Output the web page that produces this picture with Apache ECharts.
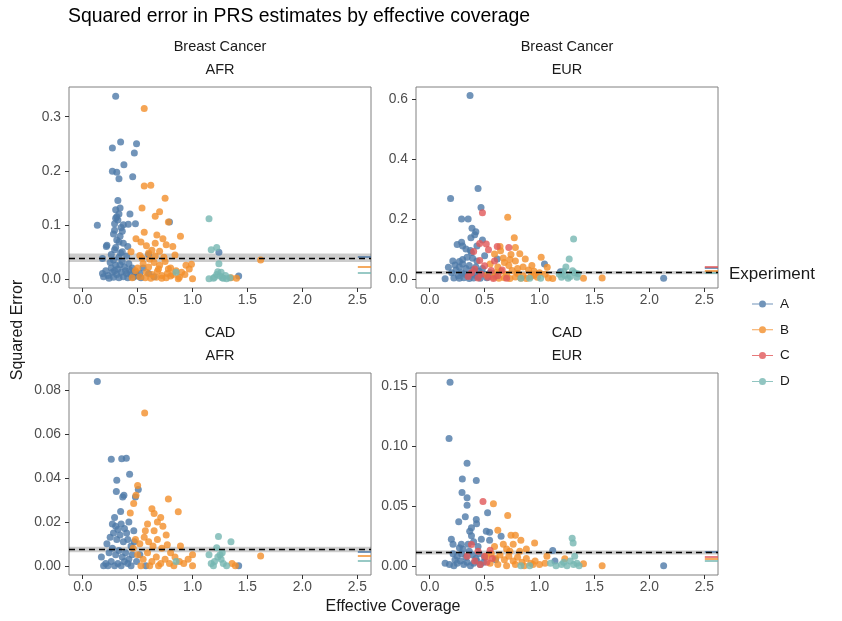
<!DOCTYPE html>
<html>
<head>
<meta charset="utf-8">
<script src="https://cdn.jsdelivr.net/npm/echarts@6/dist/echarts.min.js"></script>
<style>
  html, body { margin: 0; padding: 0; background: #fff; }
  #chart { width: 842px; height: 621px; }
</style>
</head>
<body>
<div id="chart"></div>
<script>
// categories
const experiments = ['A', 'B', 'C', 'D']
const panelNames = [['Breast Cancer', 'AFR'], ['Breast Cancer', 'EUR'], ['CAD', 'AFR'], ['CAD', 'EUR']]
const xTicks = [0, 0.5, 1, 1.5, 2, 2.5]
const yTicks = [[0, 0.1, 0.2, 0.3], [0, 0.2, 0.4, 0.6], [0, 0.02, 0.04, 0.06, 0.08], [0, 0.05, 0.1, 0.15]]

// [effective coverage, squared error]
const bcAfrA = [[0.30,0.338],[0.345,0.253],[0.49,0.25],[0.27,0.242],[0.47,0.233],[0.375,0.211],[0.27,0.199],[0.31,0.197],[0.33,0.185],[0.455,0.189],[0.32,0.145],[0.30,0.128],[0.34,0.131],[0.30,0.112],[0.43,0.12],[0.133,0.099],[0.32,0.109],[0.37,0.1],[0.415,0.101],[0.48,0.102],[0.79,0.105],[0.29,0.09],[0.36,0.088],[0.34,0.079],[0.22,0.062],[0.215,0.06],[0.31,0.072],[0.37,0.066],[0.41,0.06],[0.29,0.054],[0.18,0.0375],[0.40,0.042],[0.345,0.048],[0.6,0.045],[1.24,0.049],[1.42,0.005],[0.19,0.004],
  [0.25,0.03],[0.28,0.035],[0.33,0.04],[0.36,0.032],[0.30,0.025],[0.26,0.02],[0.32,0.018],[0.38,0.022],[0.42,0.028],[0.45,0.02],[0.27,0.012],[0.31,0.008],[0.35,0.012],[0.40,0.01],[0.44,0.008],[0.48,0.012],[0.23,0.006],[0.28,0.003],[0.33,0.002],[0.37,0.004],[0.41,0.002],[0.46,0.003],[0.50,0.005],[0.24,0.001],[0.29,0.015],[0.34,0.026],[0.39,0.015],[0.43,0.016],[0.52,0.01],[0.26,0.045],[0.30,0.058],[0.33,0.068],[0.36,0.05],[0.28,0.083],[0.35,0.095],[0.31,0.115],[0.33,0.12],[0.29,0.102],[0.53,0.002],[0.60,0.01],[0.65,0.004],[0.55,0.02],[0.21,0.015],[0.18,0.01]]
const bcAfrB = [[0.56,0.315],[0.56,0.172],[0.62,0.173],[0.75,0.149],[0.54,0.131],[0.70,0.124],[0.66,0.116],[0.78,0.105],[0.56,0.086],[0.485,0.074],[0.675,0.081],[0.89,0.079],[0.73,0.074],[0.76,0.063],[0.66,0.066],[0.82,0.06],[0.53,0.068],[0.58,0.061],[0.63,0.053],[0.70,0.051],[0.84,0.044],[0.44,0.05],[0.52,0.043],[0.61,0.036],[0.94,0.025],[0.99,0.027],[0.97,0.018],[1.0,0.0],[0.93,0.008],[0.87,0.0],[0.80,0.005],[1.62,0.035],[1.40,0.001],[1.35,0.002],
  [0.50,0.02],[0.55,0.028],[0.60,0.022],[0.65,0.03],[0.70,0.025],[0.75,0.032],[0.80,0.02],[0.85,0.015],[0.58,0.012],[0.63,0.008],[0.68,0.014],[0.72,0.006],[0.77,0.01],[0.82,0.008],[0.52,0.004],[0.57,0.002],[0.62,0.001],[0.67,0.003],[0.72,0.001],[0.76,0.002],[0.88,0.003],[0.90,0.012],[0.54,0.038],[0.66,0.042],[0.74,0.04],[0.60,0.048],[0.45,0.002],[0.48,0.015],[0.78,0.018],[0.69,0.018]]
const bcAfrD = [[1.15,0.111],[1.22,0.058],[1.17,0.054],[1.24,0.028],[0.85,0.012],[1.15,0.0],[1.19,0.001],[1.22,0.008],[1.25,0.005],[1.28,0.001],[1.31,0.0],[1.34,0.002],[1.23,0.013],[1.26,0.012],[1.20,0.003],[1.30,0.006],[1.27,0.002]]

const bcEurA = [[0.367,0.612],[0.44,0.302],[0.19,0.268],[0.467,0.238],[0.29,0.2],[0.35,0.2],[0.385,0.169],[0.42,0.157],[0.41,0.147],[0.375,0.137],[0.29,0.122],[0.30,0.11],[0.48,0.13],[0.33,0.1],[0.38,0.088],[0.39,0.069],[0.21,0.06],[0.23,0.046],[0.17,0.039],[0.50,0.077],[0.615,0.066],[1.045,0.05],[1.19,0.024],[2.13,0.002],[0.14,0.0],
  [0.20,0.02],[0.24,0.03],[0.27,0.04],[0.30,0.05],[0.33,0.035],[0.36,0.045],[0.39,0.03],[0.42,0.04],[0.45,0.025],[0.48,0.035],[0.26,0.01],[0.29,0.02],[0.32,0.015],[0.35,0.01],[0.38,0.018],[0.41,0.012],[0.44,0.008],[0.50,0.015],[0.22,0.003],[0.27,0.002],[0.31,0.004],[0.36,0.001],[0.40,0.003],[0.46,0.002],[0.52,0.004],[0.30,0.065],[0.34,0.072],[0.27,0.058],[0.43,0.06],[0.55,0.02],[0.60,0.01],[0.25,0.115],[0.43,0.11],[0.37,0.095]]
const bcEurB = [[0.71,0.206],[0.77,0.137],[0.64,0.108],[0.645,0.094],[0.78,0.105],[0.82,0.084],[0.74,0.081],[0.87,0.066],[0.59,0.083],[1.015,0.072],[1.07,0.039],[1.40,0.002],[1.57,0.003],
  [0.55,0.05],[0.62,0.04],[0.68,0.055],[0.72,0.045],[0.78,0.06],[0.85,0.04],[0.90,0.03],[0.95,0.025],[1.0,0.02],[1.05,0.015],[0.60,0.02],[0.65,0.025],[0.70,0.015],[0.75,0.028],[0.80,0.018],[0.85,0.01],[0.92,0.008],[0.98,0.005],[1.08,0.003],[1.12,0.001],[0.58,0.005],[0.63,0.002],[0.68,0.004],[0.73,0.001],[0.78,0.006],[0.83,0.002],[0.88,0.001],[0.95,0.012],[0.52,0.012],[0.67,0.07],[0.73,0.065],[0.93,0.045],[0.8,0.035]]
const bcEurC = [[0.48,0.221],[0.455,0.118],[0.515,0.116],[0.615,0.108],[0.72,0.105],[0.535,0.097],[0.40,0.091],[0.455,0.061],[0.59,0.06],[0.50,0.044],[0.56,0.028],[0.41,0.033],[0.47,0.015],[0.38,0.02],[0.53,0.005],[0.62,0.01],[0.66,0.03],[0.70,0.002],[0.44,0.003],[0.58,0.001],[0.35,0.008]]
const bcEurD = [[1.31,0.133],[1.27,0.066],[1.24,0.04],[1.30,0.027],[1.32,0.02],[1.23,0.011],[1.26,0.002],[1.35,0.017],[1.20,0.005],[1.28,0.008],[0.83,0.002],[0.91,0.002],[1.01,0.002],[1.22,0.025],[1.34,0.005],[1.18,0.015]]

const cadAfrA = [[0.133,0.084],[0.26,0.0486],[0.355,0.0488],[0.397,0.049],[0.427,0.0417],[0.31,0.039],[0.506,0.0348],[0.306,0.0339],[0.375,0.0322],[0.364,0.0314],[0.48,0.0314],[0.345,0.0247],[0.27,0.019],[0.35,0.019],[0.32,0.0165],[0.40,0.015],[0.465,0.016],[0.17,0.004],[0.19,0.0],[0.575,0.0],[1.42,0.0],
  [0.22,0.01],[0.25,0.013],[0.28,0.015],[0.31,0.012],[0.34,0.014],[0.37,0.011],[0.41,0.012],[0.44,0.009],[0.47,0.011],[0.24,0.006],[0.27,0.008],[0.30,0.005],[0.33,0.007],[0.36,0.004],[0.39,0.006],[0.42,0.003],[0.45,0.005],[0.49,0.002],[0.21,0.001],[0.26,0.002],[0.29,0.0],[0.32,0.001],[0.35,0.0],[0.38,0.002],[0.41,0.001],[0.44,0.0],[0.30,0.018],[0.38,0.017],[0.29,0.022],[0.42,0.02],[0.52,0.005],[0.23,0.0]]
const cadAfrB = [[0.564,0.0697],[0.5,0.0366],[0.485,0.0322],[0.464,0.0284],[0.433,0.0241],[0.78,0.0305],[0.63,0.026],[0.65,0.0238],[0.87,0.0246],[0.71,0.022],[0.68,0.02],[0.73,0.018],[0.59,0.019],[0.65,0.016],[0.76,0.014],[0.77,0.0096],[0.89,0.009],[1.0,0.005],[0.96,0.003],[1.0,0.0],[1.62,0.0045],[1.36,0.001],[1.39,0.0],
  [0.48,0.012],[0.52,0.01],[0.56,0.013],[0.60,0.011],[0.64,0.009],[0.68,0.012],[0.72,0.008],[0.80,0.006],[0.84,0.004],[0.50,0.005],[0.55,0.003],[0.59,0.006],[0.63,0.002],[0.67,0.004],[0.71,0.001],[0.75,0.003],[0.79,0.001],[0.83,0.0],[0.88,0.002],[0.92,0.001],[0.53,0.0],[0.61,0.0],[0.69,0.0],[0.57,0.016],[0.46,0.008]]
const cadAfrD = [[1.236,0.0134],[1.35,0.011],[1.22,0.0082],[1.15,0.005],[0.85,0.002],[1.17,0.001],[1.20,0.002],[1.23,0.004],[1.26,0.003],[1.28,0.001],[1.31,0.0],[1.25,0.005],[1.19,0.0],[1.27,0.006]]

const cadEurA = [[0.185,0.153],[0.176,0.106],[0.34,0.0854],[0.297,0.0724],[0.424,0.071],[0.294,0.061],[0.34,0.0568],[0.34,0.0505],[0.527,0.0441],[0.264,0.0366],[0.324,0.0408],[0.424,0.0385],[0.427,0.035],[0.38,0.0316],[0.364,0.0288],[0.515,0.0288],[0.545,0.028],[0.65,0.0247],[0.545,0.0213],[0.197,0.022],[0.212,0.018],[0.288,0.018],[0.303,0.014],[0.212,0.010],[1.12,0.0128],[1.14,0.004],[2.13,0.0],[0.14,0.002],
  [0.18,0.001],[0.22,0.0],[0.25,0.002],[0.28,0.004],[0.31,0.001],[0.34,0.003],[0.37,0.0],[0.40,0.002],[0.43,0.004],[0.46,0.001],[0.49,0.003],[0.25,0.008],[0.29,0.01],[0.33,0.007],[0.36,0.012],[0.39,0.009],[0.42,0.006],[0.45,0.01],[0.50,0.007],[0.27,0.015],[0.35,0.018],[0.40,0.02],[0.44,0.016],[0.38,0.025],[0.47,0.022],[0.60,0.005],[0.23,0.005]]
const cadEurB = [[0.58,0.0518],[0.71,0.042],[0.62,0.0297],[0.74,0.0255],[0.78,0.0255],[0.83,0.0213],[0.955,0.019],[0.67,0.018],[0.59,0.016],[0.70,0.014],[0.76,0.018],[0.88,0.014],[1.067,0.008],[1.23,0.0058],[1.40,0.0017],[1.57,0.0],
  [0.52,0.008],[0.56,0.01],[0.60,0.006],[0.64,0.009],[0.68,0.005],[0.72,0.008],[0.76,0.004],[0.80,0.007],[0.84,0.003],[0.88,0.006],[0.92,0.002],[0.96,0.004],[1.00,0.001],[0.55,0.002],[0.62,0.001],[0.70,0.0],[0.78,0.001],[0.86,0.0],[0.94,0.001],[1.05,0.002],[0.82,0.012],[0.73,0.012]]
const cadEurC = [[0.485,0.0535],[0.38,0.0177],[0.44,0.012],[0.50,0.008],[0.41,0.004],[0.52,0.003],[0.34,0.008],[0.57,0.006],[0.46,0.001],[0.55,0.013]]
const cadEurD = [[1.297,0.023],[1.306,0.019],[1.32,0.008],[1.20,0.001],[1.25,0.0],[1.31,0.001],[1.34,0.002],[1.22,0.003],[1.36,0.0],[1.15,0.0],[0.83,0.0],[0.91,0.0],[1.28,0.004],[1.10,0.002]]

// reference line (dashed) with its grey band, one per panel
const refMean = [0.0387, 0.021, 0.0077, 0.011]
const refLow = [0.031, 0.0155, 0.0062, 0.0094]
const refHigh = [0.047, 0.0265, 0.0087, 0.0127]

// rug ticks on the right side, per experiment and panel
const rugA = [0.0417, 0.036, 0.0062, 0.0113]
const rugB = [0.023, 0.028, 0.0047, 0.0058]
const rugC = [null, 0.041, null, 0.0072]
const rugD = [0.0103, 0.019, 0.0024, 0.0038]

const panelData = [
  [bcAfrA, bcAfrB, [], bcAfrD],
  [bcEurA, bcEurB, bcEurC, bcEurD],
  [cadAfrA, cadAfrB, [], cadAfrD],
  [cadEurA, cadEurB, cadEurC, cadEurD]
]
const rugs = [rugA, rugB, rugC, rugD]

const colors = ['#4E79A7', '#F28E2B', '#E15759', '#76B7B2']
const FONT = 'Liberation Sans, Arial, sans-serif'
const xMin = -0.125
const xMax = 2.625
const rugStart = 2.505
const yRange = [[-0.017, 0.355], [-0.0305, 0.6405], [-0.0042, 0.0879], [-0.0077, 0.1607]]
const yDec = [1, 1, 2, 2]
const grids = [
  { left: 69, top: 87, width: 302, height: 201 },
  { left: 416, top: 87, width: 302, height: 201 },
  { left: 69, top: 373, width: 302, height: 202 },
  { left: 416, top: 373, width: 302, height: 202 }
]

const chart = echarts.init(document.getElementById('chart'))

const xAxis = grids.map((g, i) => ({
  type: 'value', gridIndex: i, min: xMin, max: xMax,
  axisLine: { show: false, onZero: false },
  splitLine: { show: false },
  axisTick: { show: true, length: 4, customValues: xTicks, lineStyle: { color: '#333' } },
  axisLabel: {
    customValues: xTicks, margin: 5, color: '#4d4d4d', fontSize: 13.8, fontFamily: FONT,
    formatter: v => v.toFixed(1)
  }
}))

const yAxis = grids.map((g, i) => ({
  type: 'value', gridIndex: i, min: yRange[i][0], max: yRange[i][1],
  axisLine: { show: false, onZero: false },
  splitLine: { show: false },
  axisTick: { show: true, length: 4, customValues: yTicks[i], lineStyle: { color: '#333' } },
  axisLabel: {
    customValues: yTicks[i], margin: 8, color: '#4d4d4d', fontSize: 13.8, fontFamily: FONT,
    formatter: v => v.toFixed(yDec[i])
  }
}))

const series = []
grids.forEach((g, i) => {
  // grey band under the points
  series.push({
    name: 'band', type: 'scatter', xAxisIndex: i, yAxisIndex: i, data: [], z: 1,
    markArea: {
      silent: true,
      itemStyle: { color: 'rgba(0,0,0,0.2)' },
      data: [[{ yAxis: refLow[i] }, { yAxis: refHigh[i] }]]
    }
  })
  experiments.forEach((name, j) => {
    const rugVal = rugs[j][i]
    const s = {
      name: name, type: 'scatter', xAxisIndex: i, yAxisIndex: i, z: 2,
      data: panelData[i][j],
      symbolSize: 7,
      itemStyle: { color: colors[j], opacity: 0.8 }
    }
    if (rugVal != null) {
      s.markLine = {
        silent: true, symbol: ['none', 'none'], label: { show: false }, precision: 6,
        lineStyle: { color: colors[j], width: 1.5, type: 'solid', opacity: 1 },
        data: [[{ coord: [rugStart, rugVal] }, { coord: [xMax, rugVal] }]]
      }
    }
    series.push(s)
  })
  // dashed reference line on top
  series.push({
    name: 'ref', type: 'scatter', xAxisIndex: i, yAxisIndex: i, data: [], z: 5,
    markLine: {
      silent: true, symbol: ['none', 'none'], label: { show: false }, precision: 6,
      lineStyle: { color: '#000', width: 1.4, type: [6, 4] },
      data: [{ yAxis: refMean[i] }]
    }
  })
})

const txt = (text, x, y, size, extra) => Object.assign({
  type: 'text', x: x, y: y,
  style: {
    text: text, fontSize: size, fontFamily: FONT, fill: '#1a1a1a',
    align: 'center', verticalAlign: 'middle', textAlign: 'center', textVerticalAlign: 'middle'
  }
}, extra || {})

const graphic = []
graphic.push(txt('Squared error in PRS estimates by effective coverage', 68, 17, 19.4, {}))
graphic[0].style.align = 'left'
graphic[0].style.textAlign = 'left'
graphic[0].style.fill = '#000'
grids.forEach((g, i) => {
  const cx = g.left + g.width / 2
  graphic.push(txt(panelNames[i][0], cx, g.top - 40, 14.5))
  graphic.push(txt(panelNames[i][1], cx, g.top - 17, 14.5))
})
graphic.push(txt('Effective Coverage', 393, 607, 16))
graphic.push(txt('Squared Error', 18, 330, 16, { rotation: Math.PI / 2 }))
const legTitle = txt('Experiment', 729, 274, 17)
legTitle.style.align = 'left'
legTitle.style.textAlign = 'left'
graphic.push(legTitle)

chart.setOption({
  animation: false,
  backgroundColor: '#fff',
  grid: grids.map(g => Object.assign({ show: true, borderColor: '#808080', borderWidth: 1, backgroundColor: 'transparent' }, g)),
  xAxis: xAxis,
  yAxis: yAxis,
  legend: {
    data: experiments,
    orient: 'vertical',
    left: 747, top: 292,
    itemWidth: 21, itemHeight: 7, itemGap: 11.8,
    icon: 'path://M0,3 L21,3 L21,4 L0,4 Z M7,3.5 A3.5,3.5 0 1 1 14,3.5 A3.5,3.5 0 1 1 7,3.5 Z',
    textStyle: { fontSize: 13.5, color: '#1a1a1a', fontFamily: FONT, padding: [0, 0, 0, 2] }
  },
  graphic: graphic,
  series: series
})
</script>
</body>
</html>
